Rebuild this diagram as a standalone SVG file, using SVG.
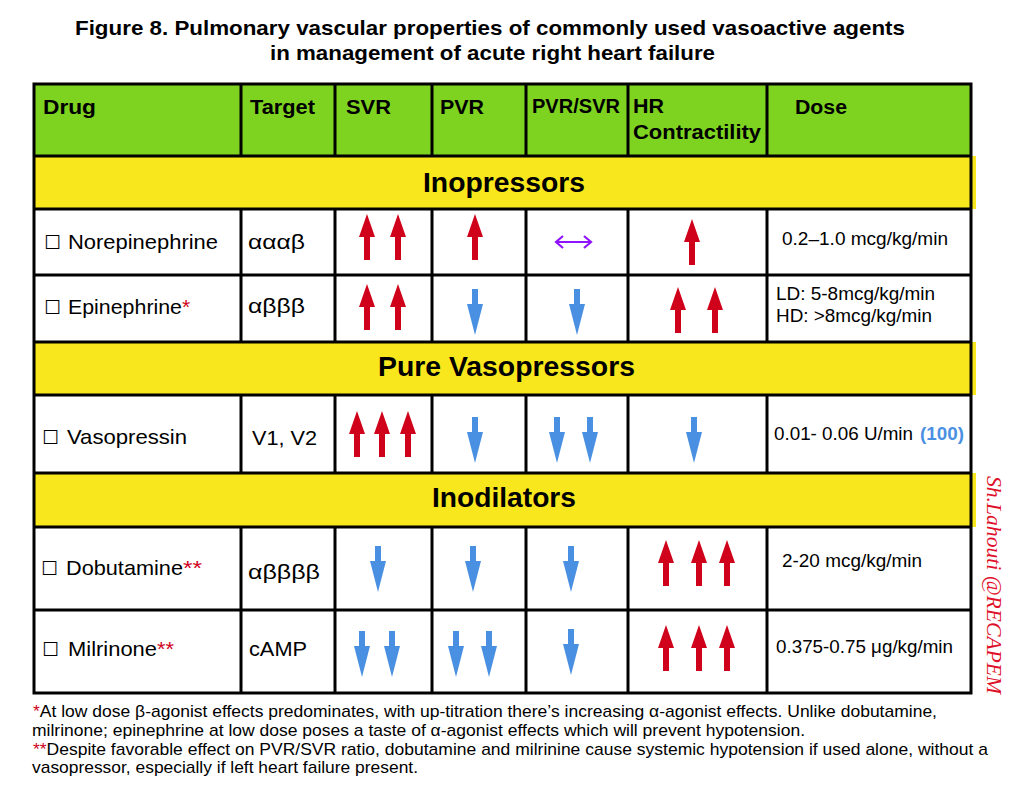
<svg xmlns="http://www.w3.org/2000/svg" xmlns:xlink="http://www.w3.org/1999/xlink" width="1024" height="802" viewBox="0 0 1024 802">
<style>
text{font-family:"Liberation Sans",Arial,Helvetica,sans-serif;fill:#000}
.ttl{font-weight:bold;font-size:21px}
.h{font-weight:bold;font-size:20px}
.band{font-weight:bold;font-size:28px}
.cell{font-size:21px}
.box{font-family:"DejaVu Sans",sans-serif;font-size:19px}
.dose{font-size:18px}
.foot{font-size:17px}
.red{fill:#d0021b}
.blue{fill:#4a90e2}
.grid{stroke:#000;stroke-width:3;fill:none}
.sig{font-family:"Liberation Serif","DejaVu Serif",serif;font-style:italic;font-size:20px;fill:#e0102a}
</style>
<defs>
<path id="up" d="M0,0 L8,23 L3,23 L3,46 L-3,46 L-3,23 L-8,23 Z" fill="#d0021b"/>
<path id="dn" d="M-3,0 L3,0 L3,15 L8,15 L0,46 L-8,15 L-3,15 Z" fill="#4a90e2"/>
</defs>
<rect width="1024" height="802" fill="#fff"/>
<g id="title">
<text class="ttl" x="75" y="35" textLength="830" lengthAdjust="spacingAndGlyphs">Figure 8. Pulmonary vascular properties of commonly used vasoactive agents</text>
<text class="ttl" x="270" y="60" textLength="445" lengthAdjust="spacingAndGlyphs">in management of acute right heart failure</text>
</g>
<g id="fills">
<rect x="34" y="84" width="937" height="72" fill="#7ed321"/>
<rect x="34" y="156" width="942" height="53" fill="#f8e71c"/>
<rect x="34" y="342" width="942" height="53" fill="#f8e71c"/>
<rect x="34" y="473" width="942" height="54" fill="#f8e71c"/>
</g>
<g id="connectors" class="grid">
<rect x="34" y="84" width="937" height="609"/>
<path d="M34,156H971M34,209H971M34,275H971M34,342H971M34,395H971M34,473H971M34,527H971M34,610H971"/>
<path d="M241,84V156M335,84V156M432,84V156M526,84V156M628,84V156M767,84V156"/>
<path d="M241,209V342M335,209V342M432,209V342M526,209V342M628,209V342M767,209V342"/>
<path d="M241,395V473M335,395V473M432,395V473M526,395V473M628,395V473M767,395V473"/>
<path d="M241,527V693M335,527V693M432,527V693M526,527V693M628,527V693M767,527V693"/>
</g>
<g id="header">
<text class="h" x="43" y="114" textLength="53" lengthAdjust="spacingAndGlyphs">Drug</text>
<text class="h" x="250" y="114" textLength="65" lengthAdjust="spacingAndGlyphs">Target</text>
<text class="h" x="346" y="114" textLength="45" lengthAdjust="spacingAndGlyphs">SVR</text>
<text class="h" x="440" y="114" textLength="44" lengthAdjust="spacingAndGlyphs">PVR</text>
<text class="h" x="532" y="113" textLength="88" lengthAdjust="spacingAndGlyphs">PVR/SVR</text>
<text class="h" x="633" y="113" textLength="31" lengthAdjust="spacingAndGlyphs">HR</text>
<text class="h" x="633" y="139" textLength="128" lengthAdjust="spacingAndGlyphs">Contractility</text>
<text class="h" x="795" y="114" textLength="52" lengthAdjust="spacingAndGlyphs">Dose</text>
</g>
<g id="band-inopressors"><text class="band" x="423" y="192" textLength="162" lengthAdjust="spacingAndGlyphs">Inopressors</text></g>
<g id="band-pure"><text class="band" x="378" y="376" textLength="257" lengthAdjust="spacingAndGlyphs">Pure Vasopressors</text></g>
<g id="band-inodilators"><text class="band" x="432" y="507" textLength="144" lengthAdjust="spacingAndGlyphs">Inodilators</text></g>
<g id="row-norepinephrine">
<text class="box" x="44" y="249">☐</text>
<text class="cell" x="68" y="249" textLength="150" lengthAdjust="spacingAndGlyphs">Norepinephrine</text>
<text class="cell" x="248" y="249" textLength="57" lengthAdjust="spacingAndGlyphs">αααβ</text>
<use xlink:href="#up" x="367" y="214"/><use xlink:href="#up" x="398" y="214"/>
<use xlink:href="#up" x="475" y="214"/>
<path d="M557,242H590M563,236L556,242L563,248M584,236L591,242L584,248" stroke="#9013fe" stroke-width="2.2" fill="none"/>
<use xlink:href="#up" x="692" y="219"/>
<text class="dose" x="782" y="245" textLength="166" lengthAdjust="spacingAndGlyphs">0.2–1.0 mcg/kg/min</text>
</g>
<g id="row-epinephrine">
<text class="box" x="44" y="314">☐</text>
<text class="cell" x="68" y="314" textLength="114" lengthAdjust="spacingAndGlyphs">Epinephrine</text>
<text class="cell red" x="182" y="314">*</text>
<text class="cell" x="248" y="313" textLength="57" lengthAdjust="spacingAndGlyphs">αβββ</text>
<use xlink:href="#up" x="367" y="284"/><use xlink:href="#up" x="398" y="284"/>
<use xlink:href="#dn" x="475" y="289"/>
<use xlink:href="#dn" x="577" y="289"/>
<use xlink:href="#up" x="678" y="287"/><use xlink:href="#up" x="715" y="287"/>
<text class="dose" x="776" y="300" textLength="159" lengthAdjust="spacingAndGlyphs">LD: 5-8mcg/kg/min</text>
<text class="dose" x="776" y="322" textLength="156" lengthAdjust="spacingAndGlyphs">HD: &gt;8mcg/kg/min</text>
</g>
<g id="row-vasopressin">
<text class="box" x="42" y="444">☐</text>
<text class="cell" x="67" y="444" textLength="120" lengthAdjust="spacingAndGlyphs">Vasopressin</text>
<text class="cell" x="252" y="445" textLength="65" lengthAdjust="spacingAndGlyphs">V1, V2</text>
<use xlink:href="#up" x="357" y="411"/><use xlink:href="#up" x="382" y="411"/><use xlink:href="#up" x="408" y="411"/>
<use xlink:href="#dn" x="475" y="417"/>
<use xlink:href="#dn" x="557" y="417"/><use xlink:href="#dn" x="590" y="417"/>
<use xlink:href="#dn" x="694" y="417"/>
<text class="dose" x="774" y="440" textLength="139" lengthAdjust="spacingAndGlyphs">0.01- 0.06 U/min</text>
<text class="dose blue" x="920" y="440" font-weight="bold" textLength="44" lengthAdjust="spacingAndGlyphs">(100)</text>
</g>
<g id="row-dobutamine">
<text class="box" x="41" y="575">☐</text>
<text class="cell" x="66" y="575" textLength="117" lengthAdjust="spacingAndGlyphs">Dobutamine</text>
<text class="cell red" x="183" y="575" textLength="19" lengthAdjust="spacingAndGlyphs">**</text>
<text class="cell" x="248" y="579" textLength="72" lengthAdjust="spacingAndGlyphs">αββββ</text>
<use xlink:href="#dn" x="378" y="546"/>
<use xlink:href="#dn" x="473" y="546"/>
<use xlink:href="#dn" x="571" y="546"/>
<use xlink:href="#up" x="666" y="540"/><use xlink:href="#up" x="699" y="540"/><use xlink:href="#up" x="727" y="540"/>
<text class="dose" x="782" y="567" textLength="140" lengthAdjust="spacingAndGlyphs">2-20 mcg/kg/min</text>
</g>
<g id="row-milrinone">
<text class="box" x="42" y="656">☐</text>
<text class="cell" x="68" y="656" textLength="89" lengthAdjust="spacingAndGlyphs">Milrinone</text>
<text class="cell red" x="157" y="656" textLength="17" lengthAdjust="spacingAndGlyphs">**</text>
<text class="cell" x="249" y="656" textLength="58" lengthAdjust="spacingAndGlyphs">cAMP</text>
<use xlink:href="#dn" x="362" y="631"/><use xlink:href="#dn" x="392" y="631"/>
<use xlink:href="#dn" x="456" y="631"/><use xlink:href="#dn" x="489" y="631"/>
<use xlink:href="#dn" x="571" y="629"/>
<use xlink:href="#up" x="666" y="625"/><use xlink:href="#up" x="699" y="625"/><use xlink:href="#up" x="727" y="625"/>
<text class="dose" x="776" y="653" textLength="177" lengthAdjust="spacingAndGlyphs">0.375-0.75 μg/kg/min</text>
</g>
<g id="footnotes">
<text class="foot" x="33" y="717" textLength="904" lengthAdjust="spacingAndGlyphs"><tspan class="red">*</tspan>At low dose β-agonist effects predominates, with up-titration there’s increasing α-agonist effects. Unlike dobutamine,</text>
<text class="foot" x="32" y="736" textLength="773" lengthAdjust="spacingAndGlyphs">milrinone; epinephrine at low dose poses a taste of α-agonist effects which will prevent hypotension.</text>
<text class="foot" x="33" y="755" textLength="955" lengthAdjust="spacingAndGlyphs"><tspan class="red">**</tspan>Despite favorable effect on PVR/SVR ratio, dobutamine and milrinine cause systemic hypotension if used alone, without a</text>
<text class="foot" x="32" y="773" textLength="386" lengthAdjust="spacingAndGlyphs">vasopressor, especially if left heart failure present.</text>
</g>
<g id="signature">
<text class="sig" transform="translate(987,476) rotate(90)" textLength="218" lengthAdjust="spacingAndGlyphs">Sh.Lahouti @RECAPEM</text>
</g>
</svg>
